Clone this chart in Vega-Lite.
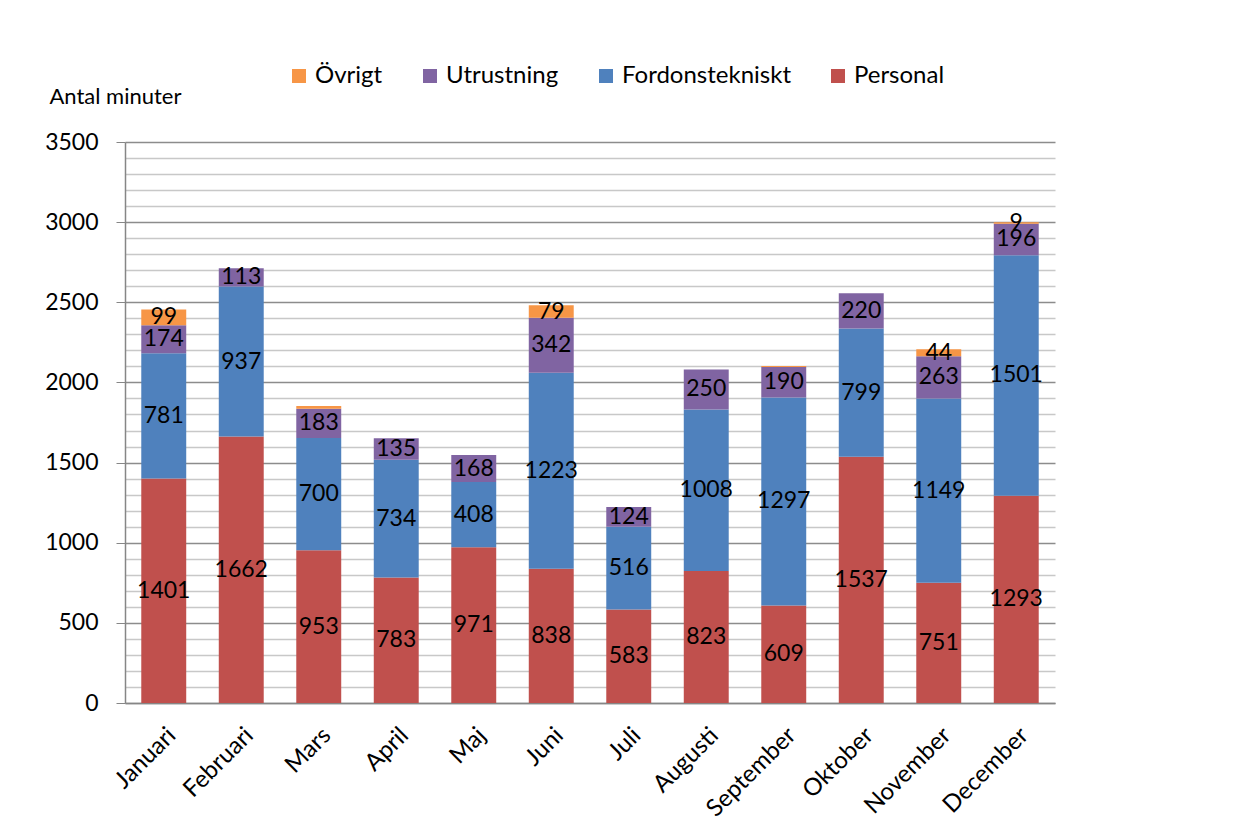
{
  "$schema": "https://vega.github.io/schema/vega-lite/v6.json",
  "width": 930,
  "height": 561,
  "autosize": {"type": "none"},
  "padding": {"left": 125, "top": 142, "right": 192, "bottom": 131},
  "background": "white",
  "config": {"view": {"stroke": null}, "font": "Lato"},
  "data": {"values": [
    {"month": "Januari", "cat": "Personal", "value": 1401},
    {"month": "Januari", "cat": "Fordonstekniskt", "value": 781},
    {"month": "Januari", "cat": "Utrustning", "value": 174},
    {"month": "Januari", "cat": "Övrigt", "value": 99},
    {"month": "Februari", "cat": "Personal", "value": 1662},
    {"month": "Februari", "cat": "Fordonstekniskt", "value": 937},
    {"month": "Februari", "cat": "Utrustning", "value": 113},
    {"month": "Mars", "cat": "Personal", "value": 953},
    {"month": "Mars", "cat": "Fordonstekniskt", "value": 700},
    {"month": "Mars", "cat": "Utrustning", "value": 183},
    {"month": "Mars", "cat": "Övrigt", "value": 17},
    {"month": "April", "cat": "Personal", "value": 783},
    {"month": "April", "cat": "Fordonstekniskt", "value": 734},
    {"month": "April", "cat": "Utrustning", "value": 135},
    {"month": "Maj", "cat": "Personal", "value": 971},
    {"month": "Maj", "cat": "Fordonstekniskt", "value": 408},
    {"month": "Maj", "cat": "Utrustning", "value": 168},
    {"month": "Juni", "cat": "Personal", "value": 838},
    {"month": "Juni", "cat": "Fordonstekniskt", "value": 1223},
    {"month": "Juni", "cat": "Utrustning", "value": 342},
    {"month": "Juni", "cat": "Övrigt", "value": 79},
    {"month": "Juli", "cat": "Personal", "value": 583},
    {"month": "Juli", "cat": "Fordonstekniskt", "value": 516},
    {"month": "Juli", "cat": "Utrustning", "value": 124},
    {"month": "Augusti", "cat": "Personal", "value": 823},
    {"month": "Augusti", "cat": "Fordonstekniskt", "value": 1008},
    {"month": "Augusti", "cat": "Utrustning", "value": 250},
    {"month": "September", "cat": "Personal", "value": 609},
    {"month": "September", "cat": "Fordonstekniskt", "value": 1297},
    {"month": "September", "cat": "Utrustning", "value": 190},
    {"month": "September", "cat": "Övrigt", "value": 6},
    {"month": "Oktober", "cat": "Personal", "value": 1537},
    {"month": "Oktober", "cat": "Fordonstekniskt", "value": 799},
    {"month": "Oktober", "cat": "Utrustning", "value": 220},
    {"month": "November", "cat": "Personal", "value": 751},
    {"month": "November", "cat": "Fordonstekniskt", "value": 1149},
    {"month": "November", "cat": "Utrustning", "value": 263},
    {"month": "November", "cat": "Övrigt", "value": 44},
    {"month": "December", "cat": "Personal", "value": 1293},
    {"month": "December", "cat": "Fordonstekniskt", "value": 1501},
    {"month": "December", "cat": "Utrustning", "value": 196},
    {"month": "December", "cat": "Övrigt", "value": 9}
  ]},
  "transform": [{"stack": "value", "groupby": ["month"], "as": ["v0", "v1"]}],
  "encoding": {
    "x": {
      "field": "month", "type": "nominal",
      "sort": ["Januari","Februari","Mars","April","Maj","Juni","Juli","Augusti","September","Oktober","November","December"],
      "scale": {"paddingInner": 0.42, "paddingOuter": 0.21},
      "axis": {"title": null, "labelAngle": -45, "labelFontSize": 24, "labelColor": "#000000", "labelPadding": 20, "ticks": false, "domainColor": "#868686", "domainWidth": 1.5}
    }
  },
  "resolve": {"axis": {"y": "independent"}},
  "layer": [
    {
      "mark": {"type": "bar"},
      "encoding": {
        "y": {
          "field": "v0", "type": "quantitative",
          "scale": {"domain": [0, 3500], "nice": false},
          "axis": {
            "title": "Antal minuter", "titleAngle": 0, "titleAlign": "left", "titleBaseline": "middle",
            "titleX": -76, "titleY": -46, "titleFontSize": 22, "titleFontWeight": "normal", "titleColor": "#000000",
            "values": [0,100,200,300,400,500,600,700,800,900,1000,1100,1200,1300,1400,1500,1600,1700,1800,1900,2000,2100,2200,2300,2400,2500,2600,2700,2800,2900,3000,3100,3200,3300,3400,3500],
            "labelExpr": "datum.value % 500 === 0 ? datum.value : ''",
            "labelOverlap": false,
            "labelFontSize": 23, "labelColor": "#000000", "labelPadding": 18,
            "tickSize": 9,
            "tickColor": {"condition": {"test": "datum.value % 500 === 0", "value": "#868686"}, "value": "transparent"},
            "grid": true,
            "gridColor": {"condition": {"test": "datum.value % 500 === 0", "value": "#8c8c8c"}, "value": "#c8c8c8"},
            "gridWidth": 1.5,
            "domainColor": "#868686", "domainWidth": 1.5
          }
        },
        "y2": {"field": "v1"},
        "color": {
          "field": "cat", "type": "nominal",
          "scale": {"domain": ["Övrigt", "Utrustning", "Fordonstekniskt", "Personal"], "range": ["#F79646", "#8064A2", "#4F81BD", "#C0504D"]},
          "legend": {
            "title": null, "orient": "none", "direction": "horizontal", "legendX": 162, "legendY": -78,
            "symbolType": "square", "symbolSize": 196, "symbolStrokeWidth": 0, "labelFontSize": 24, "labelColor": "#000000",
            "labelOffset": 4, "columnPadding": 35, "labelLimit": 400
          }
        }
      }
    },
    {
      "transform": [
        {"filter": "!((datum.month === 'Mars' || datum.month === 'September') && datum.cat === 'Övrigt')"},
        {"calculate": "(datum.v0 + datum.v1) / 2", "as": "mid"}
      ],
      "mark": {"type": "text", "fontSize": 23, "color": "#000000"},
      "encoding": {
        "y": {"field": "mid", "type": "quantitative", "axis": null},
        "text": {"field": "value", "type": "quantitative"}
      }
    }
  ]
}
